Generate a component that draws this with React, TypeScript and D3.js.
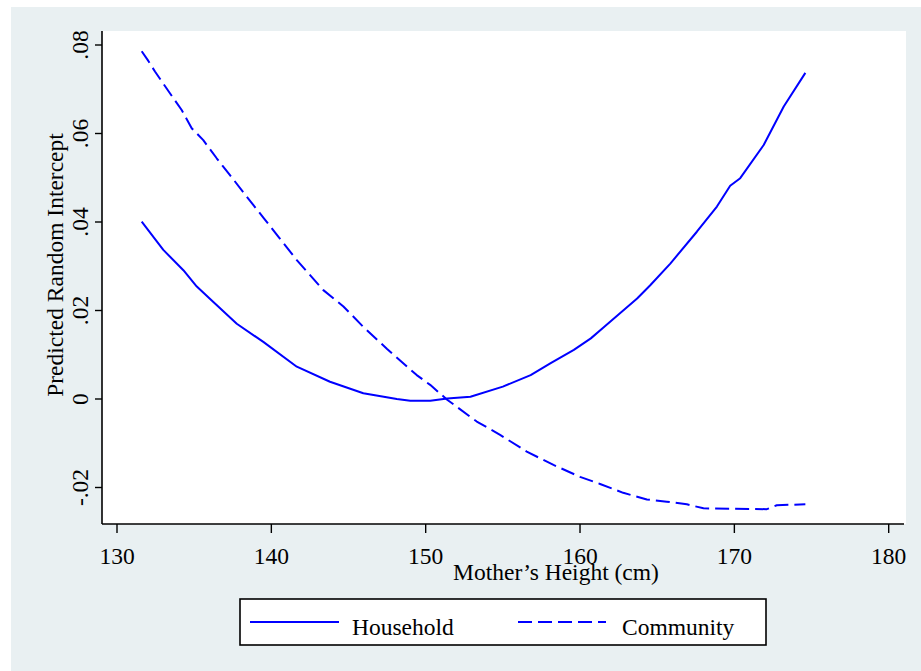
import React from "react";
import * as d3 from "d3";

const householdHeight = [131.6, 133.0, 134.3, 135.17, 136.0, 137.76, 139.48, 141.65, 143.8, 145.96, 148.13, 149.0, 150.3, 151.4, 152.9, 155.0, 156.8, 158.1, 159.6, 160.7, 161.5, 163.7, 164.55, 165.85, 167.57, 168.87, 169.73, 170.38, 171.9, 173.2, 174.6];
const householdValue = [0.0401, 0.0337, 0.0291, 0.0254, 0.0227, 0.017, 0.0129, 0.0073, 0.0039, 0.0013, 0.0, -0.0004, -0.0004, 0.0001, 0.0005, 0.0028, 0.0054, 0.0081, 0.0111, 0.0137, 0.0161, 0.0227, 0.0257, 0.0306, 0.0378, 0.0435, 0.0482, 0.0499, 0.0574, 0.0661, 0.0737];

const communityHeight = [131.6, 132.03, 132.46, 133.43, 134.19, 134.84, 135.59, 136.46, 137.32, 138.84, 139.48, 140.45, 141.65, 143.37, 144.67, 145.96, 147.5, 149.42, 150.29, 151.37, 153.31, 154.82, 156.55, 158.28, 160.0, 161.3, 162.8, 164.33, 165.62, 166.92, 168.0, 172.1, 172.75, 174.6];
const communityValue = [0.0786, 0.0764, 0.074, 0.0691, 0.0653, 0.0612, 0.0585, 0.0544, 0.0506, 0.0438, 0.041, 0.0367, 0.0314, 0.0246, 0.0209, 0.0163, 0.0113, 0.0054, 0.0032, -0.0001, -0.0051, -0.0081, -0.0119, -0.0149, -0.0176, -0.0192, -0.0212, -0.0227, -0.0232, -0.0238, -0.0247, -0.0249, -0.024, -0.0238];

const xTicks = [130, 140, 150, 160, 170, 180];
const yTicks = [-0.02, 0, 0.02, 0.04, 0.06, 0.08];
const yTickLabels = ["-.02", "0", ".02", ".04", ".06", ".08"];
const seriesNames = ["Household", "Community"];
const xTitle = "Mother\u2019s Height (cm)";
const yTitle = "Predicted Random Intercept";

const W = 921;
const H = 671;
const FONT = "'Liberation Serif', 'Times New Roman', Times, serif";
const BLUE = "#0000ff";

export default function App() {
  const x = d3.scaleLinear().domain([130, 180]).range([117, 888.7]);
  const y = d3.scaleLinear().domain([-0.02, 0.08]).range([487.5, 45]);
  const plotLeft = 102;
  const plotTop = 31;
  const plotBottom = 524;
  const plotRight = 906;

  const line = d3
    .line<[number, number]>()
    .x((d) => x(d[0]))
    .y((d) => y(d[1]));

  const hData: [number, number][] = householdHeight.map((h, i) => [h, householdValue[i]]);
  const cData: [number, number][] = communityHeight.map((h, i) => [h, communityValue[i]]);

  return (
    <svg
      width={W}
      height={H}
      style={{ position: "absolute", left: 0, top: 0, background: "#ffffff" }}
      fontFamily={FONT}
    >
      <rect x={11} y={7} width={W - 11} height={H - 7} fill="#e9f0f2" />
      <rect x={plotLeft} y={plotTop} width={plotRight - plotLeft} height={plotBottom - plotTop} fill="#ffffff" />

      <path d={line(hData) || ""} fill="none" stroke={BLUE} strokeWidth={2} strokeLinejoin="round" />
      <path d={line(cData) || ""} fill="none" stroke={BLUE} strokeWidth={2} strokeDasharray="14 6" strokeLinejoin="round" />

      {/* axes */}
      <line x1={plotLeft} x2={plotLeft} y1={plotTop} y2={plotBottom} stroke="#000" strokeWidth={1.6} />
      <line x1={plotLeft} x2={plotRight - 2} y1={plotBottom} y2={plotBottom} stroke="#000" strokeWidth={1.6} />

      {yTicks.map((t, i) => (
        <g key={"yt" + i}>
          <line x1={plotLeft - 7} x2={plotLeft} y1={y(t)} y2={y(t)} stroke="#000" strokeWidth={1.4} />
          <text
            transform={`translate(88,${y(t)}) rotate(-90)`}
            textAnchor="middle"
            fontSize={23.5}
            fill="#000"
          >
            {yTickLabels[i]}
          </text>
        </g>
      ))}

      {xTicks.map((t, i) => (
        <g key={"xt" + i}>
          <line x1={x(t)} x2={x(t)} y1={plotBottom} y2={plotBottom + 9} stroke="#000" strokeWidth={1.4} />
          <text x={x(t)} y={564} textAnchor="middle" fontSize={23.5} fill="#000">
            {String(t)}
          </text>
        </g>
      ))}

      <text x={556} y={580} textAnchor="middle" fontSize={23.5} fill="#000">
        {xTitle}
      </text>
      <text transform="translate(63,265) rotate(-90)" textAnchor="middle" fontSize={23.5} fill="#000">
        {yTitle}
      </text>

      {/* legend */}
      <rect x={240} y={599} width={526} height={46} fill="#ffffff" stroke="#000" strokeWidth={1.6} />
      <line x1={250} x2={339} y1={622} y2={622} stroke={BLUE} strokeWidth={2} />
      <text x={352} y={635} fontSize={23.5} fill="#000">
        {seriesNames[0]}
      </text>
      <line x1={518} x2={606} y1={622} y2={622} stroke={BLUE} strokeWidth={2} strokeDasharray="14 6" />
      <text x={622} y={635} fontSize={23.5} fill="#000">
        {seriesNames[1]}
      </text>
    </svg>
  );
}
